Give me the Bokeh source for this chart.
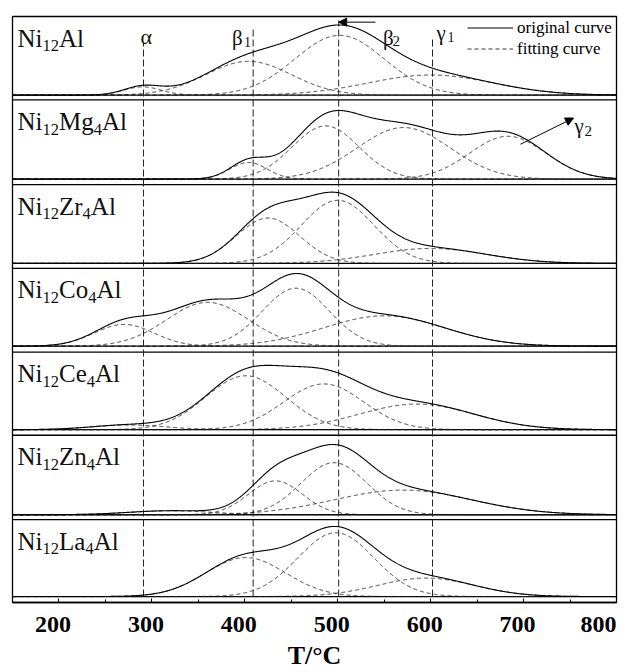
import re
import numpy as np
from bokeh.plotting import figure
from bokeh.models import (Range1d, FixedTicker, Label, Arrow, NormalHead,
                          Legend, LegendItem)
from bokeh.embed import file_html
from bokeh.resources import INLINE

# ---------------- data ----------------
samples = ["Ni12Al", "Ni12Mg4Al", "Ni12Zr4Al", "Ni12Co4Al",
           "Ni12Ce4Al", "Ni12Zn4Al", "Ni12La4Al"]
# fitted peaks of each sample: centre (deg C), height (fraction of panel), width (sigma, deg C)
peak_centers = [[290, 404, 502, 600],
                [404, 487, 571, 683],
                [425, 500, 600],
                [270, 360, 455, 550],
                [275, 401, 485, 585],
                [320, 433, 496, 570],
                [401, 498, 595]]
peak_heights = [[0.105, 0.43, 0.76, 0.256],
                [0.21, 0.67, 0.65, 0.54],
                [0.575, 0.80, 0.19],
                [0.28, 0.563, 0.745, 0.39],
                [0.06, 0.695, 0.59, 0.33],
                [0.05, 0.426, 0.655, 0.31],
                [0.507, 0.83, 0.24]]
peak_widths = [[20, 46, 48, 67],
               [20, 36, 50, 41],
               [34, 39, 60],
               [32, 44, 36, 65],
               [40, 43, 43, 62],
               [45, 29, 35.5, 74],
               [43, 41, 52]]
marker_T = [291, 409, 501, 602]          # alpha, beta1, beta2, gamma1 reference lines
x_ticks = [200, 300, 400, 500, 600, 700, 800]
minor_ticks = [150, 250, 350, 450, 550, 650, 750]
x_title = "T/°C"

# ---------------- layout helpers (pixels of the 628x672 page) ----------------
W, H = 628, 672
F_LEFT, F_RIGHT, F_TOP, F_BOTTOM = 12, 616, 16, 607
X0, X1 = 150, 800
panel_top_px = [16, 100, 185.5, 270, 354.5, 438.3, 523.5]
panel_base_px = [95.3, 180, 265, 348.5, 432.7, 518.5, 601]
marker_top_px = [43, 27, 20, 38]


def px2T(px):
    return X0 + (px - F_LEFT) * (X1 - X0) / (F_RIGHT - F_LEFT)


def py2d(py):
    return F_BOTTOM - py


def panel_y(k, v):
    base = py2d(panel_base_px[k])
    return base + np.asarray(v) * (panel_base_px[k] - panel_top_px[k])


T = np.linspace(X0, X1, 1301)

p = figure(width=W, height=H, x_range=Range1d(X0, X1),
           y_range=Range1d(0, F_BOTTOM - F_TOP),
           output_backend="svg", toolbar_location=None,
           min_border_left=F_LEFT, min_border_right=W - F_RIGHT,
           min_border_top=F_TOP, min_border_bottom=H - F_BOTTOM,
           y_axis_location=None)
p.xgrid.visible = False
p.ygrid.visible = False
p.outline_line_color = "black"
p.outline_line_width = 1.3
p.background_fill_color = "white"
p.border_fill_color = "white"

ax = p.xaxis[0]
ax.ticker = FixedTicker(ticks=x_ticks, minor_ticks=minor_ticks + x_ticks)
ax.major_label_overrides = {t: f"{t}\u00a0\u00a0" for t in x_ticks}
ax.major_tick_in = 4
ax.major_tick_out = 0
ax.minor_tick_in = 3
ax.minor_tick_out = 0
ax.axis_line_color = "black"
ax.axis_line_width = 1.3
ax.major_tick_line_color = "black"
ax.minor_tick_line_color = "black"
ax.major_label_text_font = "Liberation Serif"
ax.major_label_text_font_style = "bold"
ax.major_label_text_font_size = "24px"
ax.major_label_text_color = "black"
ax.major_label_standoff = 8
ax.axis_label = x_title
ax.axis_label_text_font = "Liberation Serif"
ax.axis_label_text_font_style = "bold"
ax.axis_label_text_font_size = "26px"
ax.axis_label_text_color = "black"
ax.axis_label_standoff = 1

# panel separators
seg_y = [py2d(b) for b in panel_base_px] + [py2d(t) for t in panel_top_px[1:]]
p.segment(x0=[X0] * len(seg_y), x1=[X1] * len(seg_y), y0=seg_y, y1=seg_y,
          line_color="black", line_width=1.3)

# vertical reference lines
p.segment(x0=marker_T, x1=marker_T,
          y0=[py2d(panel_base_px[-1])] * 4, y1=[py2d(v) for v in marker_top_px],
          line_color="#222222", line_width=1, line_dash="7 3")

orig_r = []
fit_r = []
for k in range(len(samples)):
    comps = [h * np.exp(-(T - c) ** 2 / (2 * s ** 2))
             for c, h, s in zip(peak_centers[k], peak_heights[k], peak_widths[k])]
    for comp in comps:
        r = p.line(T, panel_y(k, comp), line_color="#222222", line_width=0.9,
                   line_dash="4 3")
        fit_r.append(r)
    r = p.line(T, panel_y(k, np.sum(comps, axis=0)), line_color="black",
               line_width=1.1)
    orig_r.append(r)

# legend
legend = Legend(items=[LegendItem(label="original curve", renderers=[orig_r[0]]),
                       LegendItem(label="fitting curve", renderers=[fit_r[0]])],
                location=(455, 543),
                glyph_width=46, glyph_height=21, label_height=21,
                label_standoff=4, spacing=0, padding=0, margin=0,
                border_line_color=None, background_fill_alpha=0,
                label_text_font="Liberation Serif", label_text_font_size="17px",
                label_text_color="black")
p.add_layout(legend)

# sample labels with subscripts
ADV = {"N": 0.722, "i": 0.278, "M": 0.889, "g": 0.5, "Z": 0.611, "r": 0.333,
       "C": 0.667, "o": 0.5, "e": 0.444, "n": 0.5, "L": 0.611, "a": 0.444,
       "A": 0.722, "l": 0.278}
for k, name in enumerate(samples):
    sx = 17.0
    for part in re.findall(r"\d+|\D+", name):
        sub = part.isdigit()
        size = 16.5 if sub else 25
        base = panel_top_px[k] + 21.8 + (7.7 if sub else 0)
        p.add_layout(Label(x=px2T(sx), y=py2d(base), text=part,
                           text_font="Liberation Serif", text_font_size=f"{size}px",
                           text_baseline="alphabetic", text_align="left",
                           text_color="#111111"))
        sx += sum(ADV.get(c, 0.5) for c in part) * size

# peak names
greek = [("α", 140, 36.5, 22), ("β", 231.5, 38, 21), ("1", 243.5, 42, 14),
         ("β", 382.5, 37.5, 21), ("2", 392, 40.5, 15),
         ("γ", 436, 33, 21), ("1", 447, 37, 14),
         ("γ", 574, 126, 21), ("2", 584, 131.5, 15)]
for txt, gx, gy, size in greek:
    p.add_layout(Label(x=px2T(gx), y=py2d(gy), text=txt,
                       text_font="Liberation Serif", text_font_size=f"{size}px",
                       text_baseline="alphabetic", text_align="left",
                       text_color="#111111"))

# arrows
p.add_layout(Arrow(end=NormalHead(size=8, fill_color="black", line_color="black"),
                   x_start=px2T(375), y_start=panel_y(0, 0.928),
                   x_end=marker_T[2], y_end=panel_y(0, 0.928),
                   line_color="black", line_width=1))
p.add_layout(Arrow(end=NormalHead(size=8, fill_color="black", line_color="black"),
                   x_start=px2T(520), y_start=panel_y(1, 0.44),
                   x_end=px2T(573), y_end=panel_y(1, 0.77),
                   line_color="black", line_width=1))

open("out.html", "w").write(file_html(p, INLINE))
